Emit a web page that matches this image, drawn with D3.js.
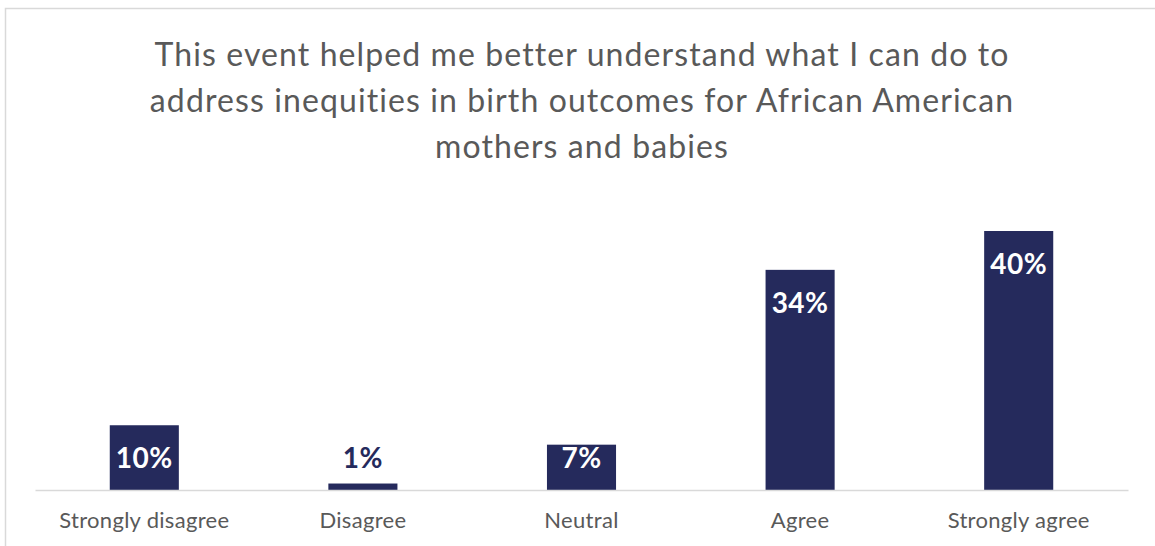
<!DOCTYPE html>
<html>
<head>
<meta charset="utf-8">
<script src="https://cdn.jsdelivr.net/npm/d3@7"></script>
<style>
  html, body { margin: 0; padding: 0; background: #fff; }
  svg { display: block; }
  text { font-variant-ligatures: none; }
</style>
</head>
<body>
<svg id="chart" width="1155" height="546"></svg>
<script>
const categories = ["Strongly disagree", "Disagree", "Neutral", "Agree", "Strongly agree"];
const values = [10, 1, 7, 34, 40];
const titleLines = [
  "This event helped me better understand what I can do to",
  "address inequities in birth outcomes for African American",
  "mothers and babies"
];

const W = 1155, H = 546;
const svg = d3.select("#chart");
const font = "Lato, 'Open Sans', sans-serif";
const barColor = "#252a5c";
const textColor = "#595959";

// frame
svg.append("rect")
  .attr("x", 5.5).attr("y", 8.5)
  .attr("width", W + 10).attr("height", H + 10)
  .attr("fill", "none").attr("stroke", "#d9d9d9").attr("stroke-width", 1.5);

// title
const title = svg.append("text")
  .attr("text-anchor", "middle")
  .attr("font-family", font)
  .attr("font-size", 32)
  .attr("letter-spacing", 1.1)
  .attr("fill", textColor);
titleLines.forEach((t, i) => {
  title.append("tspan").attr("x", 582).attr("y", 66 + i * 46).text(t);
});

const x = d3.scaleBand()
  .domain(categories)
  .range([35, 1128])
  .paddingInner(0.684)
  .paddingOuter(0.342);

const y = d3.scaleLinear()
  .domain([0, 40])
  .range([490, 231]);

// bars
svg.append("g").selectAll("rect")
  .data(values)
  .join("rect")
  .attr("x", (d, i) => x(categories[i]))
  .attr("y", d => y(d))
  .attr("width", x.bandwidth())
  .attr("height", d => y(0) - y(d))
  .attr("fill", barColor);

// axis line
const xAxis = d3.axisBottom(x).tickSize(0).tickPadding(0);
const ax = svg.append("g").attr("transform", `translate(0,${y(0)})`).call(xAxis);
ax.select(".domain").attr("stroke", "#d9d9d9").attr("stroke-width", 1.5);
ax.selectAll(".tick text")
  .attr("font-family", font)
  .attr("font-size", 22)
  .attr("letter-spacing", 0.3)
  .attr("fill", textColor)
  .attr("dy", null)
  .attr("y", 38);

// data labels
svg.append("g").selectAll("text")
  .data(values)
  .join("text")
  .attr("x", (d, i) => x(categories[i]) + x.bandwidth() / 2)
  .attr("y", d => Math.min(y(d) + 43, y(0) - 22))
  .attr("text-anchor", "middle")
  .attr("font-family", font)
  .attr("font-weight", "bold")
  .attr("font-size", 28)
  .attr("letter-spacing", 0.5)
  .attr("fill", d => (y(0) - y(d)) > 20 ? "#ffffff" : barColor)
  .text(d => d + "%");
</script>
</body>
</html>
